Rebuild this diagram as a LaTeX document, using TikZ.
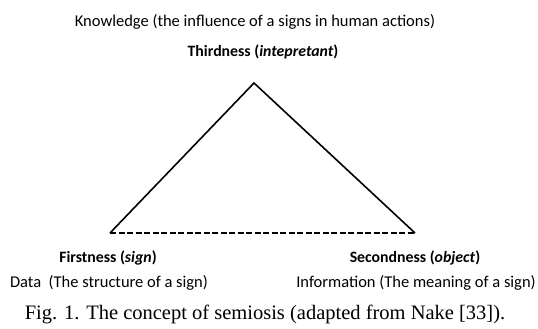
\documentclass[tikz,border=0pt]{standalone}
\usepackage{fontspec}
\setmainfont{Carlito}
\newfontfamily\captionfont{Liberation Serif}
\usetikzlibrary{positioning}

\begin{document}
\begin{tikzpicture}[x=1pt, y=-1pt, line width=1.6pt,
    lbl/.style={inner sep=0pt, font=\fontsize{16.5}{19}\selectfont},
    head/.style={inner sep=0pt, font=\fontsize{15.8}{19}\selectfont\bfseries},
    base/.style={dashed, dash pattern=on 6pt off 2.5pt}]
  \useasboundingbox (0,0) rectangle (538,329);
  \coordinate (top) at (254,83);
  \coordinate (left) at (110,233);
  \coordinate (right) at (415,233);

  \node[lbl] (know) at (255,22) {Knowledge (the influence of a signs in human actions)};
  \node[head] (third) at (263,52) {Thirdness (\textit{intepretant})};
  \node[head] (first) at (108,258) {Firstness (\textit{sign})};
  \node[lbl] (data) at (109,283) {Data\ \ (The structure of a sign)};
  \node[head] (second) at (415,258) {Secondness (\textit{object})};
  \node[lbl] (info) at (416,283) {Information (The meaning of a sign)};
  \node[inner sep=0pt, font=\captionfont\fontsize{20.5}{23}\selectfont] (cap) at (265,314)
    {Fig. 1. The concept of semiosis (adapted from Nake [33]).};

  \draw[line join=miter] (left) -- (top) -- (right);
  \draw[base] (left) -- (right);
\end{tikzpicture}
\end{document}
